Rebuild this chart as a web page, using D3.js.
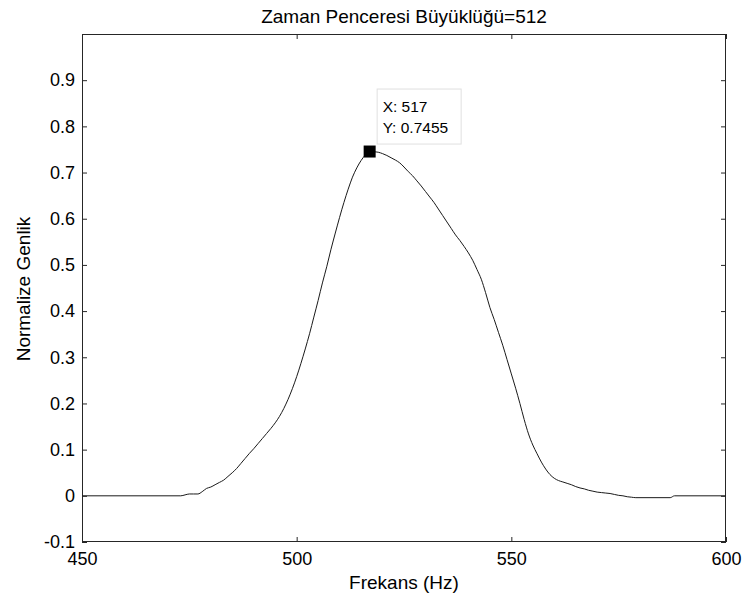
<!DOCTYPE html>
<html>
<head>
<meta charset="utf-8">
<script src="https://cdn.jsdelivr.net/npm/d3@7"></script>
<style>
  html, body { margin: 0; padding: 0; background: #fff; }
  svg { display: block; font-family: "Liberation Sans", Arial, Helvetica, sans-serif; }
</style>
</head>
<body>
<svg id="chart" width="743" height="601"></svg>
<script>
// ---- data ----
const titleText = "Zaman Penceresi Büyüklüğü=512";
const xLabel = "Frekans (Hz)";
const yLabel = "Normalize Genlik";
const xTicks = [450, 500, 550, 600];
const yTicks = [-0.1, 0, 0.1, 0.2, 0.3, 0.4, 0.5, 0.6, 0.7, 0.8, 0.9];
const xDomain = [450, 600];
const yDomain = [-0.1, 1.0];

const freq = [450, 473, 474, 475, 476, 477, 478, 479, 480, 481, 482, 483, 484, 485, 486, 487, 488, 489,
  490, 491, 492, 493, 494, 495, 496, 497, 498, 499, 500, 501, 502, 503, 504, 505, 506, 507, 508, 509,
  510, 511, 512, 513, 514, 515, 516, 517, 518, 519, 520, 521, 522, 523, 524, 525, 526, 527, 528, 529,
  530, 531, 532, 533, 534, 535, 536, 537, 538, 539, 540, 541, 542, 543, 544, 545, 546, 547, 548, 549,
  550, 551, 552, 553, 554, 555, 556, 557, 558, 559, 560, 561, 562, 563, 564, 565, 566, 567, 568, 569,
  570, 571, 572, 573, 574, 575, 576, 577, 578, 579, 587, 588, 600];
const amp = [0, 0, 0.002, 0.004, 0.004, 0.004, 0.009, 0.016, 0.019, 0.024, 0.029, 0.034, 0.042, 0.050, 0.059, 0.070, 0.081, 0.092,
  0.102, 0.113, 0.124, 0.135, 0.146, 0.158, 0.172, 0.189, 0.209, 0.232, 0.258, 0.287, 0.318, 0.351, 0.387, 0.423, 0.461, 0.496, 0.534, 0.569,
  0.603, 0.635, 0.664, 0.690, 0.710, 0.726, 0.738, 0.7455, 0.745, 0.744, 0.741, 0.737, 0.732, 0.727, 0.721, 0.712, 0.702, 0.693, 0.682, 0.671,
  0.659, 0.647, 0.635, 0.621, 0.607, 0.593, 0.579, 0.565, 0.553, 0.540, 0.526, 0.510, 0.490, 0.469, 0.440, 0.408, 0.382, 0.354, 0.326, 0.295,
  0.264, 0.233, 0.200, 0.165, 0.134, 0.110, 0.091, 0.073, 0.058, 0.046, 0.038, 0.033, 0.030, 0.027, 0.024, 0.020, 0.017, 0.015, 0.012, 0.010,
  0.008, 0.007, 0.006, 0.005, 0.003, 0.001, 0, -0.002, -0.003, -0.004, -0.004, 0, 0];

const tipX = 517;
const tipY = 0.7455;
const tipLines = ["X: 517", "Y: 0.7455"];

// ---- layout ----
const svg = d3.select("#chart");
const L = 82, R = 726, T = 34, B = 542;
const x = d3.scaleLinear().domain(xDomain).range([L, R]);
const y = d3.scaleLinear().domain(yDomain).range([B, T]);

const tickLen = 5;
const fontSize = 18;

// axes (ticks inward)
const gBottom = svg.append("g").attr("transform", `translate(0,${B})`)
  .call(d3.axisBottom(x).tickValues(xTicks).tickSizeInner(-tickLen).tickSizeOuter(0).tickPadding(10).tickFormat(d3.format("d")));
const gTop = svg.append("g").attr("transform", `translate(0,${T})`)
  .call(d3.axisTop(x).tickValues(xTicks).tickSizeInner(-tickLen).tickSizeOuter(0).tickFormat(""));
const gLeft = svg.append("g").attr("transform", `translate(${L},0)`)
  .call(d3.axisLeft(y).tickValues(yTicks).tickSizeInner(-tickLen).tickSizeOuter(0).tickPadding(7).tickFormat(d => String(+d.toFixed(1))));
const gRight = svg.append("g").attr("transform", `translate(${R},0)`)
  .call(d3.axisRight(y).tickValues(yTicks).tickSizeInner(-tickLen).tickSizeOuter(0).tickFormat(""));

[gBottom, gTop, gLeft, gRight].forEach(g => {
  g.select(".domain").remove();
  g.selectAll(".tick line").attr("stroke", "#262626").attr("stroke-width", 1);
  g.selectAll("text").attr("font-size", fontSize).attr("fill", "#000")
    .attr("font-family", "'Liberation Sans', Arial, sans-serif");
});
gBottom.selectAll("text").attr("dy", "0.71em");

// frame
svg.append("rect").attr("x", L + 0.5).attr("y", T + 0.5)
  .attr("width", R - L - 1).attr("height", B - T - 1)
  .attr("fill", "none").attr("stroke", "#262626").attr("stroke-width", 1);

// line
const pts = freq.map((f, i) => [f, amp[i]]);
const line = d3.line().x(d => x(d[0])).y(d => y(d[1])).curve(d3.curveMonotoneX);
svg.append("path").datum(pts).attr("d", line)
  .attr("fill", "none").attr("stroke", "#1a1a1a").attr("stroke-width", 1);

// data tip marker
const ms = 12;
svg.append("rect").attr("x", x(tipX) - ms / 2).attr("y", y(tipY) - ms / 2)
  .attr("width", ms).attr("height", ms).attr("fill", "#000");

// data tip box
const bx = x(tipX) + 7, by = y(tipY) - 63;
svg.append("rect").attr("x", bx + 0.5).attr("y", by + 0.5).attr("width", 84).attr("height", 55)
  .attr("fill", "#fff").attr("stroke", "#e0e0e0").attr("stroke-width", 1);
tipLines.forEach((t, i) => {
  svg.append("text").attr("x", bx + 6).attr("y", by + 23 + i * 21.5)
    .attr("font-size", 15.5).attr("fill", "#000").text(t);
});

// title & labels
svg.append("text").attr("x", (L + R) / 2).attr("y", 23).attr("text-anchor", "middle")
  .attr("font-size", 19).attr("fill", "#000").text(titleText);
svg.append("text").attr("x", (L + R) / 2).attr("y", 589).attr("text-anchor", "middle")
  .attr("font-size", 19).attr("fill", "#000").text(xLabel);
svg.append("text").attr("transform", `translate(30,${(T + B) / 2 + 1}) rotate(-90)`)
  .attr("text-anchor", "middle").attr("font-size", 19).attr("fill", "#000").text(yLabel);
</script>
</body>
</html>
